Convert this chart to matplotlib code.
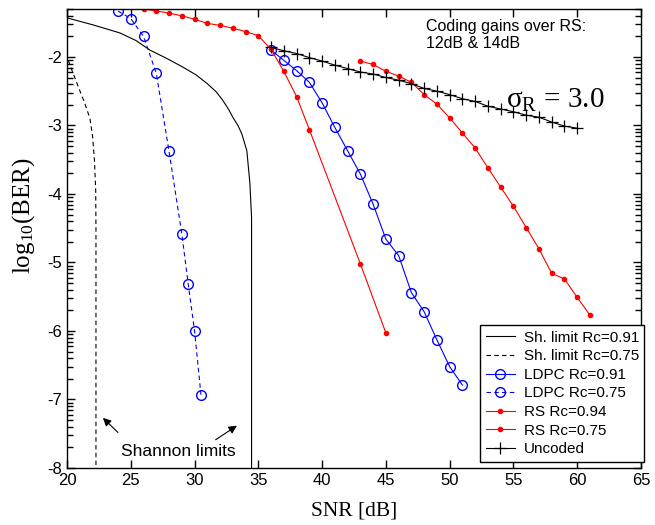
import numpy as np
import matplotlib
matplotlib.use('Agg')
import matplotlib.pyplot as plt
from matplotlib.ticker import FixedLocator, NullFormatter

# Shannon limits (SNR dB, log10 BER)
sh91_snr = [20.0, 22.0, 24.15, 25.4, 26.5, 27.8, 29.1, 30.1, 31.0, 31.7, 32.2, 32.65,
            33.0, 33.4, 33.7, 34.1, 34.34, 34.47, 34.47]
sh91_ber = [-1.43, -1.53, -1.65, -1.76, -1.90, -2.02, -2.15, -2.26, -2.39, -2.51,
            -2.63, -2.76, -2.88, -3.0, -3.12, -3.37, -3.85, -4.35, -9.0]
sh75_snr = [20.1, 20.5, 21.0, 21.4, 21.8, 22.0, 22.15, 22.25, 22.27, 22.27]
sh75_ber = [-2.05, -2.25, -2.49, -2.68, -2.9, -3.15, -3.5, -3.95, -4.5, -9.0]

# LDPC
ldpc91_snr = list(range(36, 52))
ldpc91_ber = [-1.90, -2.05, -2.20, -2.37, -2.67, -3.03, -3.37, -3.71, -4.15, -4.66,
              -4.90, -5.44, -5.72, -6.13, -6.52, -6.79]
ldpc75_snr = [24, 25, 26, 27, 28, 29, 29.5, 30, 30.5]
ldpc75_ber = [-1.33, -1.44, -1.70, -2.24, -3.38, -4.58, -5.31, -6.0, -6.93]

# Reed-Solomon
rs94_snr = [25, 26, 27, 28, 29, 30, 31, 32, 33, 34, 35, 36, 37, 38, 39, 43, 45]
rs94_ber = [-1.27, -1.30, -1.33, -1.36, -1.40, -1.45, -1.51, -1.54, -1.58, -1.63, -1.69,
            -1.89, -2.21, -2.58, -3.06, -5.02, -6.03]
rs75_snr = list(range(43, 62))
rs75_ber = [-2.06, -2.11, -2.21, -2.28, -2.37, -2.55, -2.69, -2.89, -3.11, -3.33,
            -3.62, -3.90, -4.18, -4.49, -4.80, -5.16, -5.24, -5.51, -5.77]

# Uncoded
unc_snr = list(range(36, 61))
unc_ber = [-1.86, -1.91, -1.95, -2.01, -2.06, -2.12, -2.17, -2.22, -2.25, -2.30,
           -2.34, -2.39, -2.46, -2.50, -2.55, -2.61, -2.65, -2.72, -2.76, -2.80,
           -2.85, -2.88, -2.95, -3.01, -3.04]

ytick_vals = [-8, -7, -6, -5, -4, -3, -2]

def ber(v):
    return 10.0 ** np.asarray(v, dtype=float)

plt.rcParams['font.family'] = ['Liberation Sans', 'DejaVu Sans']

fig = plt.figure(figsize=(6.55, 5.25), dpi=100)
ax = fig.add_axes([0.1023, 0.1086, 0.8763, 0.8743])
lw = 0.8

ax.plot(sh91_snr, ber(sh91_ber), 'k-', lw=lw, label='Sh. limit Rc=0.91')
ax.plot(sh75_snr, ber(sh75_ber), 'k--', lw=lw, dashes=(4, 3), label='Sh. limit Rc=0.75')
ax.plot(ldpc91_snr, ber(ldpc91_ber), '-', color='#0000ff', lw=lw, marker='o',
        mfc='none', mec='#0000ff', ms=7, label='LDPC Rc=0.91')
ax.plot(ldpc75_snr, ber(ldpc75_ber), '--', color='#0000ff', lw=lw, dashes=(4, 3), marker='o',
        mfc='none', mec='#0000ff', ms=7, label='LDPC Rc=0.75')
ax.plot(rs94_snr, ber(rs94_ber), '-', color='#ff0000', lw=lw, marker='o',
        ms=3, label='RS Rc=0.94')
ax.plot(rs75_snr, ber(rs75_ber), '-', color='#ff0000', lw=lw, marker='o',
        ms=3, label='RS Rc=0.75')
ax.plot(unc_snr, ber(unc_ber), 'k-', lw=lw, marker='+', ms=8, mew=0.9,
        label='Uncoded')

ax.set_yscale('log')
ax.set_xlim(20, 65)
ax.set_ylim(1e-8, 10 ** -1.3)
ax.set_xticks(range(20, 66, 5))
ax.yaxis.set_major_locator(FixedLocator([10.0 ** v for v in ytick_vals]))
ax.set_yticklabels([str(v) for v in ytick_vals])
minor = [k * 10.0 ** d for d in range(-8, -1) for k in range(2, 10)]
ax.yaxis.set_minor_locator(FixedLocator(minor))
ax.yaxis.set_minor_formatter(NullFormatter())
ax.tick_params(which='both', direction='in', top=True, right=True, labelsize=12)
ax.tick_params(which='major', length=6, width=1.0)
ax.tick_params(axis='y', which='minor', length=4, width=1.0, left=True, right=True)
for s in ax.spines.values():
    s.set_linewidth(1.0)

ax.set_xlabel('SNR [dB]', family='Liberation Serif', fontsize=15.5, labelpad=10)
ax.set_ylabel(r'$\mathregular{log_{10}(BER)}$', family='Liberation Serif', fontsize=18)
ax.yaxis.set_label_coords(-0.052, 0.549)

ax.text(0.625, 0.978, 'Coding gains over RS:\n12dB & 14dB', transform=ax.transAxes,
        fontsize=11.5, va='top', ha='left', linespacing=1.15)
ax.text(0.765, 0.80, r'$\mathregular{\sigma_R}$ = 3.0', transform=ax.transAxes,
        family='Liberation Serif', fontsize=21, va='center', ha='left')

ax.text(28.7, ber(-7.76), 'Shannon limits', fontsize=12.5, ha='center', va='center')
ax.annotate('', xy=(22.66, ber(-7.24)), xytext=(24.15, ber(-7.51)),
            arrowprops=dict(arrowstyle='-|>', color='k', lw=0.8, mutation_scale=12))
ax.annotate('', xy=(33.5, ber(-7.36)), xytext=(31.47, ber(-7.61)),
            arrowprops=dict(arrowstyle='-|>', color='k', lw=0.8, mutation_scale=12))

leg = ax.legend(loc='lower right', bbox_to_anchor=(1.006, 0.014), borderaxespad=0,
                fontsize=11, fancybox=False, edgecolor='k', framealpha=1,
                handlelength=1.9, handletextpad=0.6, labelspacing=0.3,
                borderpad=0.35)
leg.get_frame().set_linewidth(1.0)

fig.savefig('out.png', dpi=100)
